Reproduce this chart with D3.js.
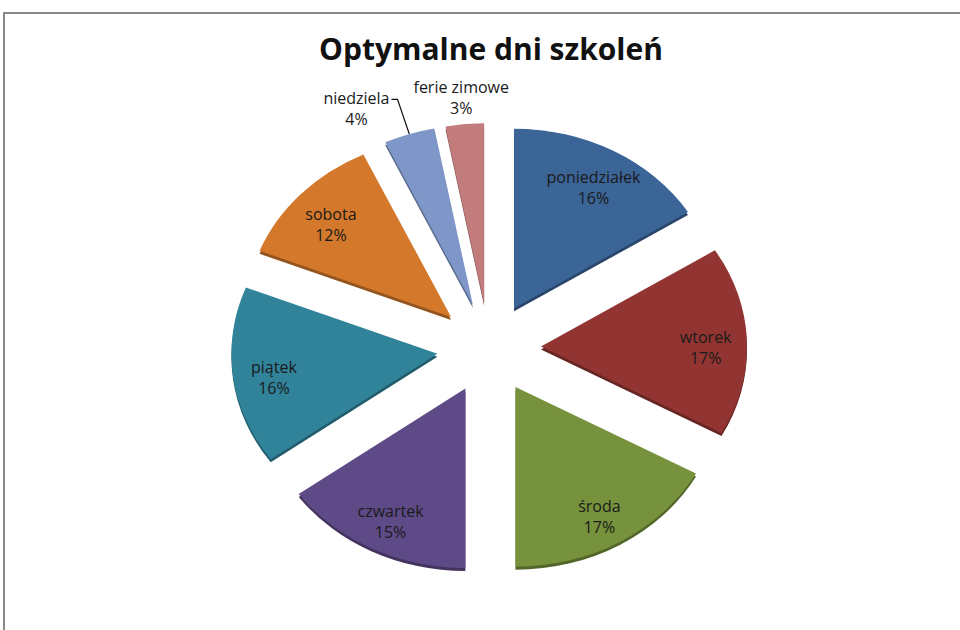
<!DOCTYPE html>
<html>
<head>
<meta charset="utf-8">
<script src="https://cdn.jsdelivr.net/npm/d3@7"></script>
<style>
  body { margin: 0; background: #fff; }
  text { font-family: "Open Sans", "DejaVu Sans", sans-serif; }
</style>
</head>
<body>
<svg id="chart" width="960" height="630"></svg>
<script>
// data
var categories = ["poniedziałek", "wtorek", "środa", "czwartek", "piątek", "sobota", "niedziela", "ferie zimowe"];
var values = [16, 17, 17, 15, 16, 12, 4, 3];
var colours = ["#3b6497", "#923532", "#76923c", "#5e4a87", "#31839a", "#d4782b", "#7f97c8", "#c27c7c"];
var title = "Optymalne dni szkoleń";

var svg = d3.select("#chart"),
    width = +svg.attr("width"),
    height = +svg.attr("height");

// frame (only top and left edges are visible in the original)
svg.append("path")
    .attr("d", "M4,630 V13 H960")
    .attr("fill", "none")
    .attr("stroke", "#8a8a8a")
    .attr("stroke-width", 2);

svg.append("text")
    .attr("x", 491)
    .attr("y", 60)
    .attr("text-anchor", "middle")
    .attr("font-size", 30)
    .attr("font-weight", "bold")
    .attr("fill", "#111")
    .text(title);

// pie geometry: tilted (elliptical) and exploded
var cx = 489, cy = 348,
    R = 206,          // horizontal radius
    tilt = 0.872,     // vertical squash
    explode = 52,     // offset of each slice from the centre
    depth = 3;

var pie = d3.pie().sort(null).value(function(d) { return d; });
var arcs = pie(values);

var arc = d3.arc().innerRadius(0).outerRadius(R);

function mid(d) { return (d.startAngle + d.endAngle) / 2; }
function apex(d) {
  var a = mid(d);
  return [cx + explode * Math.sin(a), cy - explode * tilt * Math.cos(a)];
}
function onEllipse(p, a, r) {
  return [p[0] + r * R * Math.sin(a), p[1] - r * R * tilt * Math.cos(a)];
}

var g = svg.append("g");

// side wall (darker copy just below)
g.selectAll(".side")
    .data(arcs)
  .enter().append("path")
    .attr("class", "side")
    .attr("transform", function(d) { var p = apex(d); return "translate(" + p[0] + "," + (p[1] + depth) + ") scale(1," + tilt + ")"; })
    .attr("d", arc)
    .attr("fill", function(d, i) { return d3.color(colours[i]).darker(1); });

g.selectAll(".slice")
    .data(arcs)
  .enter().append("path")
    .attr("class", "slice")
    .attr("transform", function(d) { var p = apex(d); return "translate(" + p[0] + "," + p[1] + ") scale(1," + tilt + ")"; })
    .attr("d", arc)
    .attr("fill", function(d, i) { return colours[i]; });

// labels
var labels = svg.append("g")
    .attr("font-size", 16)
    .attr("fill", "#1a1a1a")
    .attr("text-anchor", "middle");

var placed = [];
arcs.forEach(function(d, i) {
  var small = values[i] < 5;
  var p = onEllipse(apex(d), mid(d), small ? 1.18 : 0.8);
  var t = labels.append("text").attr("x", p[0]).attr("y", p[1] + 1);
  t.append("tspan").attr("x", p[0]).text(categories[i]);
  t.append("tspan").attr("x", p[0]).attr("dy", 21).text(d3.format(".0%")(values[i] / 100));
  placed.push({ t: t, d: d, i: i, small: small, x: p[0], y: p[1] });
});

// push outside labels apart (later labels stay, earlier ones move left)
for (var k = placed.length - 2; k >= 0; k--) {
  var a = placed[k], b = placed[k + 1];
  if (!a.small || !b.small) continue;
  var ba = a.t.node().getBBox(), bb = b.t.node().getBBox();
  var gap = 24;
  if (ba.x + ba.width + gap > bb.x) {
    var shift = ba.x + ba.width + gap - bb.x;
    a.x -= shift;
    a.t.attr("x", a.x).selectAll("tspan").attr("x", a.x);
    a.moved = true;
  }
}

// leader line for a moved label
placed.forEach(function(o) {
  if (!o.moved) return;
  var bx = o.t.node().getBBox();
  var end = onEllipse(apex(o.d), mid(o.d), 1);
  var y0 = bx.y + 12;
  svg.append("path")
      .attr("d", "M" + (bx.x + bx.width + 2) + "," + y0 + "H" + (bx.x + bx.width + 8) + "L" + end[0] + "," + end[1])
      .attr("fill", "none")
      .attr("stroke", "#111")
      .attr("stroke-width", 1.2);
});
</script>
</body>
</html>
